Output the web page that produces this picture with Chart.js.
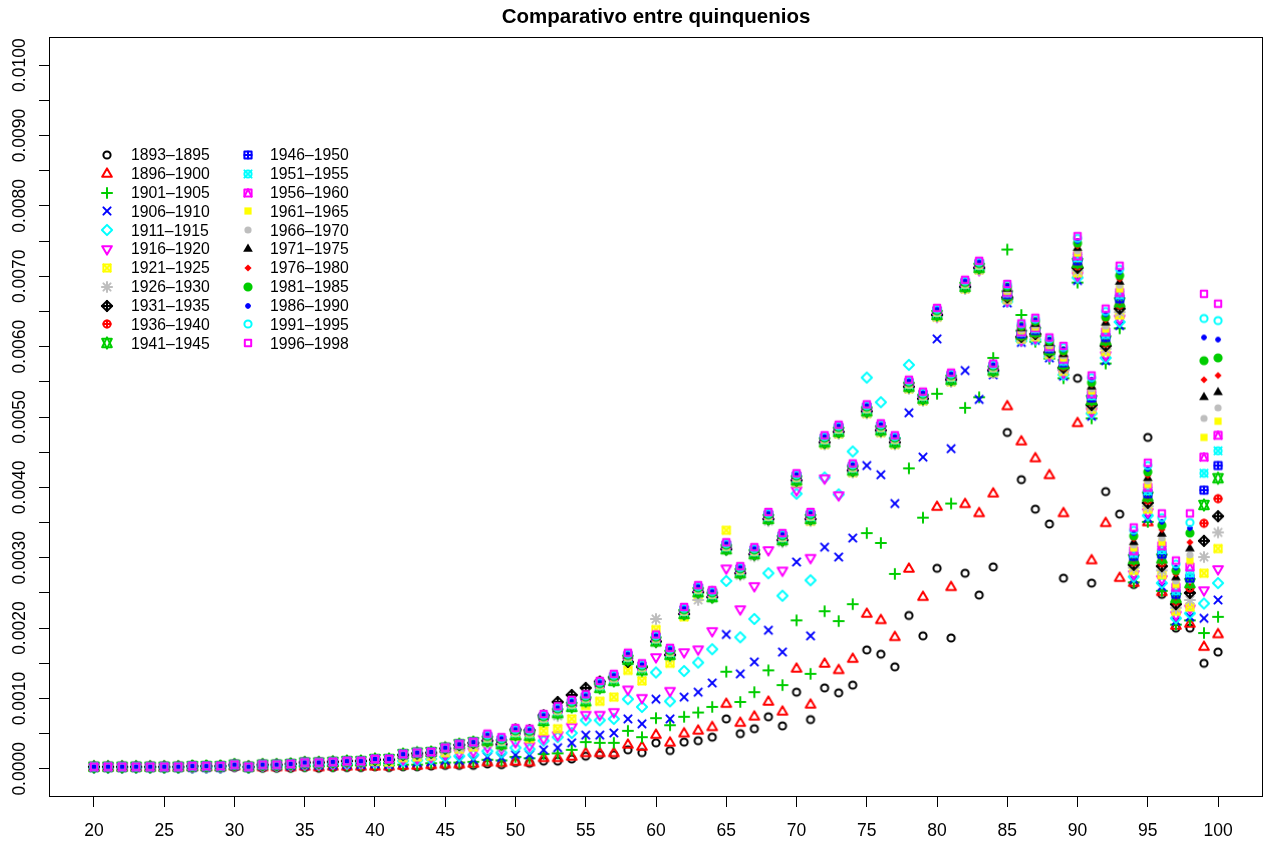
<!DOCTYPE html>
<html>
<head>
<meta charset="utf-8">
<title>Comparativo entre quinquenios</title>
<script src="https://cdn.jsdelivr.net/npm/chart.js@4.4.0/dist/chart.umd.min.js"></script>
<style>
  html, body { margin: 0; padding: 0; background: #fff; }
</style>
</head>
<body>
<canvas id="chart" width="1272" height="844"></canvas>
<script>
// Age-specific rates per five-year period, in per-mille (0.001 = 1.00)
const ages = [20,21,22,23,24,25,26,27,28,29,30,31,32,33,34,35,36,37,38,39,
  40,41,42,43,44,45,46,47,48,49,50,51,52,53,54,55,56,57,58,59,
  60,61,62,63,64,65,66,67,68,69,70,71,72,73,74,75,76,77,78,79,
  80,81,82,83,84,85,86,87,88,89,90,91,92,93,94,95,96,97,98,99,100];

const rate1893 = [0.01,0.01,0.01,0.01,0.01,0.01,0.01,0.01,0.01,0.01,
  0.02,0.01,0.01,0.01,0.01,0.02,0.01,0.02,0.02,0.02,
  0.03,0.02,0.03,0.03,0.04,0.05,0.05,0.05,0.07,0.06,
  0.09,0.08,0.11,0.11,0.14,0.18,0.20,0.20,0.27,0.23,
  0.37,0.26,0.38,0.40,0.45,0.71,0.50,0.57,0.74,0.61,
  1.09,0.70,1.15,1.08,1.19,1.69,1.63,1.45,2.18,1.89,
  2.85,1.86,2.78,2.47,2.87,4.78,4.11,3.69,3.48,2.71,
  5.55,2.64,3.94,3.62,2.62,4.71,2.48,2.00,2.00,1.50,1.66];
const rate1896 = [0.02,0.02,0.02,0.02,0.02,0.02,0.02,0.02,0.02,0.02,
  0.03,0.02,0.02,0.02,0.02,0.03,0.02,0.03,0.03,0.03,
  0.03,0.03,0.04,0.04,0.05,0.06,0.06,0.07,0.09,0.08,
  0.10,0.09,0.15,0.15,0.17,0.22,0.22,0.22,0.34,0.31,
  0.48,0.37,0.50,0.54,0.59,0.92,0.65,0.74,0.95,0.81,
  1.42,0.91,1.49,1.40,1.56,2.20,2.11,1.87,2.84,2.44,
  3.72,2.58,3.76,3.63,3.91,5.15,4.65,4.41,4.17,3.63,
  4.91,2.96,3.49,2.71,2.64,3.50,2.51,2.03,2.06,1.73,1.91];
const rate1901 = [0.02,0.02,0.02,0.02,0.02,0.02,0.02,0.02,0.02,0.02,
  0.04,0.02,0.03,0.03,0.03,0.04,0.04,0.04,0.05,0.05,
  0.06,0.05,0.06,0.06,0.08,0.09,0.09,0.10,0.13,0.12,
  0.17,0.15,0.21,0.22,0.27,0.38,0.37,0.37,0.54,0.45,
  0.72,0.62,0.74,0.80,0.88,1.38,0.95,1.09,1.40,1.19,
  2.11,1.35,2.24,2.10,2.34,3.35,3.21,2.77,4.27,3.57,
  5.33,3.77,5.13,5.28,5.84,7.38,6.45,6.07,5.83,5.55,
  6.91,4.98,5.76,6.26,2.65,3.51,2.53,2.05,2.11,1.93,2.16];
const rate1906 = [0.02,0.02,0.02,0.02,0.02,0.02,0.02,0.02,0.02,0.02,
  0.04,0.02,0.04,0.04,0.04,0.05,0.05,0.05,0.06,0.06,
  0.07,0.06,0.08,0.09,0.10,0.12,0.12,0.13,0.17,0.16,
  0.20,0.20,0.27,0.30,0.37,0.48,0.48,0.51,0.71,0.64,
  0.99,0.71,1.02,1.09,1.22,1.91,1.35,1.52,1.97,1.66,
  2.94,1.89,3.15,3.01,3.28,4.31,4.18,3.77,5.06,4.43,
  6.11,4.55,5.66,5.25,5.60,6.62,6.06,6.09,5.84,5.58,
  6.94,5.01,5.80,6.30,2.69,3.56,2.59,2.10,2.16,2.14,2.40];
const rate1911 = [0.02,0.02,0.02,0.02,0.02,0.02,0.02,0.02,0.02,0.02,
  0.05,0.02,0.04,0.04,0.05,0.06,0.06,0.07,0.07,0.08,
  0.09,0.08,0.11,0.12,0.14,0.17,0.18,0.20,0.25,0.23,
  0.30,0.28,0.40,0.45,0.51,0.69,0.69,0.71,0.99,0.88,
  1.37,0.96,1.39,1.51,1.70,2.67,1.87,2.13,2.78,2.46,
  3.91,2.68,4.14,3.90,4.51,5.56,5.21,4.70,5.74,5.30,
  6.45,5.55,6.85,7.10,5.65,6.64,6.08,6.10,5.86,5.60,
  6.98,5.05,5.84,6.35,2.73,3.60,2.64,2.14,2.21,2.35,2.64];
const rate1916 = [0.03,0.03,0.03,0.03,0.03,0.03,0.03,0.03,0.03,0.03,
  0.05,0.03,0.05,0.05,0.06,0.07,0.07,0.08,0.09,0.09,
  0.11,0.10,0.14,0.15,0.17,0.21,0.23,0.25,0.31,0.29,
  0.38,0.33,0.43,0.48,0.60,0.77,0.77,0.81,1.13,1.01,
  1.59,1.11,1.66,1.70,1.96,2.85,2.27,2.60,3.11,2.82,
  3.96,3.00,4.13,3.89,4.28,5.08,4.83,4.65,5.44,5.26,
  6.43,5.52,6.84,7.09,5.64,6.65,6.09,6.12,5.87,5.63,
  7.01,5.08,5.88,6.40,2.77,3.65,2.70,2.19,2.28,2.54,2.84];
const rate1921 = [0.03,0.03,0.03,0.03,0.03,0.03,0.03,0.04,0.04,0.04,
  0.06,0.03,0.06,0.06,0.07,0.09,0.09,0.10,0.11,0.11,
  0.11,0.10,0.16,0.17,0.18,0.23,0.28,0.31,0.38,0.36,
  0.47,0.43,0.54,0.57,0.71,0.90,0.96,1.02,1.40,1.25,
  1.98,1.50,2.16,2.45,2.50,3.39,2.80,3.05,3.55,3.28,
  4.07,3.52,4.61,4.76,4.21,5.05,4.78,4.61,5.40,5.23,
  6.42,5.50,6.82,7.09,5.63,6.67,6.11,6.14,5.89,5.65,
  7.05,5.11,5.93,6.45,2.82,3.69,2.76,2.24,2.30,2.78,3.13];
const rate1926 = [0.03,0.03,0.03,0.03,0.03,0.03,0.03,0.04,0.04,0.04,
  0.06,0.03,0.06,0.06,0.07,0.09,0.09,0.10,0.11,0.11,
  0.12,0.12,0.18,0.20,0.20,0.26,0.30,0.34,0.37,0.32,
  0.55,0.50,0.72,0.75,0.90,1.00,1.20,1.28,1.57,1.44,
  2.13,1.60,2.24,2.40,2.52,3.15,2.75,3.02,3.52,3.22,
  4.07,3.52,4.61,4.76,4.21,5.05,4.78,4.61,5.40,5.23,
  6.42,5.50,6.82,7.09,5.63,6.68,6.12,6.16,5.91,5.67,
  7.08,5.14,5.97,6.49,2.86,3.73,2.82,2.29,2.40,3.01,3.36];
const rate1931 = [0.03,0.03,0.03,0.03,0.03,0.03,0.03,0.04,0.04,0.04,
  0.06,0.03,0.06,0.06,0.07,0.09,0.09,0.10,0.11,0.11,
  0.13,0.13,0.20,0.22,0.23,0.29,0.34,0.37,0.40,0.35,
  0.56,0.55,0.76,0.95,1.05,1.15,1.24,1.30,1.52,1.45,
  1.81,1.62,2.20,2.51,2.44,3.12,2.78,3.05,3.55,3.25,
  4.10,3.55,4.64,4.79,4.24,5.08,4.81,4.64,5.43,5.26,
  6.45,5.53,6.85,7.12,5.66,6.70,6.14,6.18,5.92,5.70,
  7.12,5.17,6.01,6.54,2.90,3.78,2.88,2.34,2.50,3.24,3.59];
const rate1936 = [0.03,0.03,0.03,0.03,0.03,0.03,0.03,0.04,0.04,0.04,
  0.06,0.03,0.06,0.06,0.07,0.09,0.09,0.10,0.11,0.11,
  0.14,0.14,0.21,0.23,0.24,0.30,0.35,0.38,0.43,0.38,
  0.51,0.50,0.71,0.82,0.91,0.99,1.18,1.28,1.58,1.43,
  1.84,1.65,2.23,2.54,2.47,3.15,2.81,3.08,3.58,3.28,
  4.13,3.58,4.67,4.82,4.27,5.11,4.84,4.67,5.46,5.29,
  6.48,5.56,6.88,7.15,5.69,6.71,6.15,6.19,5.94,5.72,
  7.15,5.21,6.05,6.59,2.94,3.82,2.93,2.38,2.57,3.49,3.84];
const rate1941 = [0.03,0.03,0.03,0.03,0.03,0.03,0.03,0.04,0.04,0.04,
  0.06,0.03,0.06,0.06,0.07,0.09,0.09,0.10,0.11,0.11,
  0.14,0.14,0.21,0.23,0.24,0.30,0.35,0.38,0.40,0.35,
  0.48,0.47,0.68,0.79,0.88,0.96,1.15,1.25,1.55,1.40,
  1.81,1.62,2.20,2.51,2.44,3.12,2.78,3.05,3.55,3.25,
  4.10,3.55,4.64,4.79,4.24,5.08,4.81,4.64,5.43,5.26,
  6.45,5.53,6.85,7.12,5.66,6.73,6.17,6.21,5.95,5.75,
  7.19,5.24,6.09,6.63,2.98,3.87,2.99,2.43,2.64,3.75,4.13];
const rate1946 = [0.03,0.03,0.03,0.03,0.03,0.03,0.03,0.04,0.04,0.04,
  0.06,0.03,0.06,0.06,0.07,0.09,0.09,0.10,0.11,0.11,
  0.14,0.14,0.21,0.23,0.24,0.30,0.35,0.38,0.46,0.41,
  0.54,0.53,0.74,0.85,0.94,1.02,1.21,1.31,1.61,1.46,
  1.87,1.68,2.26,2.57,2.50,3.18,2.84,3.11,3.61,3.31,
  4.16,3.61,4.70,4.85,4.30,5.14,4.87,4.70,5.49,5.32,
  6.51,5.59,6.91,7.18,5.72,6.74,6.18,6.23,5.97,5.77,
  7.22,5.27,6.13,6.68,3.02,3.91,3.05,2.48,2.71,3.96,4.31];
const rate1951 = [0.03,0.03,0.03,0.03,0.03,0.03,0.03,0.04,0.04,0.04,
  0.06,0.03,0.06,0.06,0.07,0.09,0.09,0.10,0.11,0.11,
  0.14,0.14,0.21,0.23,0.24,0.30,0.35,0.38,0.43,0.38,
  0.51,0.50,0.71,0.82,0.91,0.99,1.18,1.28,1.58,1.43,
  1.84,1.65,2.23,2.54,2.47,3.15,2.81,3.08,3.58,3.28,
  4.13,3.58,4.67,4.82,4.27,5.11,4.84,4.67,5.46,5.29,
  6.48,5.56,6.88,7.15,5.69,6.76,6.20,6.25,5.99,5.79,
  7.26,5.30,6.17,6.73,3.06,3.95,3.11,2.53,2.78,4.20,4.52];
const rate1956 = [0.03,0.03,0.03,0.03,0.03,0.03,0.03,0.04,0.04,0.04,
  0.06,0.03,0.06,0.06,0.07,0.09,0.09,0.10,0.11,0.11,
  0.14,0.14,0.21,0.23,0.24,0.30,0.35,0.38,0.46,0.41,
  0.54,0.53,0.74,0.85,0.94,1.02,1.21,1.31,1.61,1.46,
  1.87,1.68,2.26,2.57,2.50,3.18,2.84,3.11,3.61,3.31,
  4.16,3.61,4.70,4.85,4.30,5.14,4.87,4.70,5.49,5.32,
  6.51,5.59,6.91,7.18,5.72,6.77,6.21,6.27,6.00,5.82,
  7.29,5.33,6.21,6.77,3.10,4.00,3.17,2.58,2.87,4.43,4.74];
const rate1961 = [0.03,0.03,0.03,0.03,0.03,0.03,0.03,0.04,0.04,0.04,
  0.06,0.03,0.06,0.06,0.07,0.09,0.09,0.10,0.11,0.11,
  0.14,0.14,0.21,0.23,0.24,0.30,0.35,0.38,0.43,0.38,
  0.51,0.50,0.71,0.82,0.91,0.99,1.18,1.28,1.58,1.43,
  1.84,1.65,2.23,2.54,2.47,3.15,2.81,3.08,3.58,3.28,
  4.13,3.58,4.67,4.82,4.27,5.11,4.84,4.67,5.46,5.29,
  6.48,5.56,6.88,7.15,5.69,6.79,6.23,6.28,6.02,5.84,
  7.33,5.37,6.25,6.82,3.14,4.04,3.22,2.62,2.96,4.71,4.94];
const rate1966 = [0.03,0.03,0.03,0.03,0.03,0.03,0.03,0.04,0.04,0.04,
  0.06,0.03,0.06,0.06,0.07,0.09,0.09,0.10,0.11,0.11,
  0.14,0.14,0.21,0.23,0.24,0.30,0.35,0.38,0.43,0.38,
  0.51,0.50,0.71,0.82,0.91,0.99,1.18,1.28,1.58,1.43,
  1.84,1.65,2.23,2.54,2.47,3.15,2.81,3.08,3.58,3.28,
  4.13,3.58,4.67,4.82,4.27,5.11,4.84,4.67,5.46,5.29,
  6.48,5.56,6.88,7.15,5.69,6.80,6.24,6.30,6.03,5.87,
  7.36,5.40,6.29,6.87,3.18,4.09,3.28,2.67,3.04,4.98,5.13];
const rate1971 = [0.03,0.03,0.03,0.03,0.03,0.03,0.03,0.04,0.04,0.04,
  0.06,0.03,0.06,0.06,0.07,0.09,0.09,0.10,0.11,0.11,
  0.14,0.14,0.21,0.23,0.24,0.30,0.35,0.38,0.46,0.41,
  0.54,0.53,0.74,0.85,0.94,1.02,1.21,1.31,1.61,1.46,
  1.87,1.68,2.26,2.57,2.50,3.18,2.84,3.11,3.61,3.31,
  4.16,3.61,4.70,4.85,4.30,5.14,4.87,4.70,5.49,5.32,
  6.51,5.59,6.91,7.18,5.72,6.82,6.26,6.32,6.05,5.89,
  7.40,5.43,6.34,6.92,3.22,4.13,3.34,2.72,3.13,5.28,5.35];
const rate1976 = [0.03,0.03,0.03,0.03,0.03,0.03,0.03,0.04,0.04,0.04,
  0.06,0.03,0.06,0.06,0.07,0.09,0.09,0.10,0.11,0.11,
  0.14,0.14,0.21,0.23,0.24,0.30,0.35,0.38,0.48,0.43,
  0.56,0.55,0.76,0.87,0.96,1.04,1.23,1.33,1.63,1.48,
  1.89,1.70,2.28,2.59,2.52,3.20,2.86,3.13,3.63,3.33,
  4.18,3.63,4.72,4.87,4.32,5.16,4.89,4.72,5.51,5.34,
  6.53,5.61,6.93,7.20,5.74,6.83,6.27,6.34,6.07,5.91,
  7.43,5.46,6.38,6.96,3.27,4.17,3.40,2.77,3.22,5.53,5.59];
const rate1981 = [0.03,0.03,0.03,0.03,0.03,0.03,0.03,0.04,0.04,0.04,
  0.06,0.03,0.06,0.06,0.07,0.09,0.09,0.10,0.11,0.11,
  0.14,0.14,0.21,0.23,0.24,0.30,0.35,0.38,0.46,0.41,
  0.54,0.53,0.74,0.85,0.94,1.02,1.21,1.31,1.61,1.46,
  1.87,1.68,2.26,2.57,2.50,3.18,2.84,3.11,3.61,3.31,
  4.16,3.61,4.70,4.85,4.30,5.14,4.87,4.70,5.49,5.32,
  6.51,5.59,6.91,7.18,5.72,6.85,6.29,6.36,6.08,5.94,
  7.47,5.49,6.42,7.01,3.31,4.22,3.46,2.82,3.35,5.80,5.84];
const rate1986 = [0.03,0.03,0.03,0.03,0.03,0.03,0.03,0.04,0.04,0.04,
  0.06,0.03,0.06,0.06,0.07,0.09,0.09,0.10,0.11,0.11,
  0.14,0.14,0.21,0.23,0.24,0.30,0.35,0.38,0.50,0.45,
  0.58,0.57,0.78,0.89,0.98,1.06,1.25,1.35,1.65,1.50,
  1.91,1.72,2.30,2.61,2.54,3.22,2.88,3.15,3.65,3.35,
  4.20,3.65,4.74,4.89,4.34,5.18,4.91,4.74,5.53,5.36,
  6.55,5.63,6.95,7.22,5.76,6.86,6.30,6.37,6.10,5.96,
  7.50,5.53,6.46,7.06,3.35,4.26,3.51,2.86,3.42,6.13,6.10];
const rate1991 = [0.03,0.03,0.03,0.03,0.03,0.03,0.03,0.04,0.04,0.04,
  0.06,0.03,0.06,0.06,0.07,0.09,0.09,0.10,0.11,0.11,
  0.14,0.14,0.21,0.23,0.24,0.30,0.35,0.38,0.48,0.43,
  0.56,0.55,0.76,0.87,0.96,1.04,1.23,1.33,1.63,1.48,
  1.89,1.70,2.28,2.59,2.52,3.20,2.86,3.13,3.63,3.33,
  4.18,3.63,4.72,4.87,4.32,5.16,4.89,4.72,5.51,5.34,
  6.53,5.61,6.93,7.20,5.74,6.88,6.32,6.39,6.11,5.99,
  7.54,5.56,6.50,7.10,3.39,4.31,3.57,2.91,3.50,6.40,6.37];
const rate1996 = [0.03,0.03,0.03,0.03,0.03,0.03,0.03,0.04,0.04,0.04,
  0.06,0.03,0.06,0.06,0.07,0.09,0.09,0.10,0.11,0.11,
  0.14,0.14,0.21,0.23,0.24,0.30,0.35,0.38,0.50,0.45,
  0.58,0.57,0.78,0.89,0.98,1.06,1.25,1.35,1.65,1.50,
  1.91,1.72,2.30,2.61,2.54,3.22,2.88,3.15,3.65,3.35,
  4.20,3.65,4.74,4.89,4.34,5.18,4.91,4.74,5.53,5.36,
  6.55,5.63,6.95,7.22,5.76,6.89,6.33,6.41,6.13,6.01,
  7.57,5.59,6.54,7.15,3.43,4.35,3.63,2.96,3.63,6.75,6.61];

const periods = ['1893\u20131895','1896\u20131900','1901\u20131905','1906\u20131910','1911\u20131915',
  '1916\u20131920','1921\u20131925','1926\u20131930','1931\u20131935','1936\u20131940','1941\u20131945',
  '1946\u20131950','1951\u20131955','1956\u20131960','1961\u20131965','1966\u20131970','1971\u20131975',
  '1976\u20131980','1981\u20131985','1986\u20131990','1991\u20131995','1996\u20131998'];
const seriesValues = [rate1893, rate1896, rate1901, rate1906, rate1911, rate1916, rate1921, rate1926,
  rate1931, rate1936, rate1941, rate1946, rate1951, rate1956, rate1961, rate1966, rate1971,
  rate1976, rate1981, rate1986, rate1991, rate1996];

const xTicks = [20,25,30,35,40,45,50,55,60,65,70,75,80,85,90,95,100];
const yTicks = [0,0.5,1,1.5,2,2.5,3,3.5,4,4.5,5,5.5,6,6.5,7,7.5,8,8.5,9,9.5,10];
const yLabelValues = [0,1,2,3,4,5,6,7,8,9,10];
const yLabels = ['0.0000','0.0010','0.0020','0.0030','0.0040','0.0050','0.0060','0.0070','0.0080','0.0090','0.0100'];
const chartTitle = 'Comparativo entre quinquenios';

// base-graphics style palette and symbols 1..22
const palette = ['#000000','#FF0000','#00CD00','#0000FF','#00FFFF','#FF00FF','#FFFF00','#BEBEBE'];
const FONT = '"Liberation Sans", Arial, Helvetica, sans-serif';

const R = 3.6;
function makeMarker(pch, color) {
  const c = document.createElement('canvas');
  c.width = 28; c.height = 28;
  const g = c.getContext('2d');
  g.translate(14, 14);
  g.strokeStyle = color;
  g.fillStyle = color;
  g.lineWidth = 2;
  g.lineCap = 'round';
  g.lineJoin = 'round';
  const seg = (x1, y1, x2, y2) => { g.beginPath(); g.moveTo(x1, y1); g.lineTo(x2, y2); g.stroke(); };
  const ring = r => { g.beginPath(); g.arc(0, 0, r, 0, Math.PI * 2); g.stroke(); };
  const disc = r => { g.beginPath(); g.arc(0, 0, r, 0, Math.PI * 2); g.fill(); };
  const shape = (pts, fill) => {
    g.beginPath();
    pts.forEach(([x, y], k) => (k ? g.lineTo(x, y) : g.moveTo(x, y)));
    g.closePath();
    if (fill) g.fill(); else g.stroke();
  };
  const tri = s => [[0, -1.555 * R * s], [1.347 * R, 0.778 * R * s], [-1.347 * R, 0.778 * R * s]];
  const d = Math.SQRT2 * R;
  const q = 0.886 * R;
  const diamond = [[0, -d], [d, 0], [0, d], [-d, 0]];
  switch (pch) {
    case 1: ring(R); break;
    case 2: shape(tri(1)); break;
    case 3: seg(-d, 0, d, 0); seg(0, -d, 0, d); break;
    case 4: seg(-R, -R, R, R); seg(-R, R, R, -R); break;
    case 5: shape(diamond); break;
    case 6: shape(tri(-1)); break;
    case 7: g.strokeRect(-R, -R, 2 * R, 2 * R); seg(-R, -R, R, R); seg(-R, R, R, -R); break;
    case 8: seg(-R, -R, R, R); seg(-R, R, R, -R); seg(-d, 0, d, 0); seg(0, -d, 0, d); break;
    case 9: shape(diamond); seg(-d, 0, d, 0); seg(0, -d, 0, d); break;
    case 10: ring(R); seg(-R, 0, R, 0); seg(0, -R, 0, R); break;
    case 11: {
      const a = 1.555 * R, b = 1.166 * R, w = 1.347 * R;
      shape([[0, -a], [w, b], [-w, b]]);
      shape([[0, a], [w, -b], [-w, -b]]);
      break;
    }
    case 12: g.strokeRect(-R, -R, 2 * R, 2 * R); seg(-R, 0, R, 0); seg(0, -R, 0, R); break;
    case 13: ring(R); seg(-R, -R, R, R); seg(-R, R, R, -R); break;
    case 14: g.strokeRect(-R, -R, 2 * R, 2 * R); seg(-R, R, 0, -R); seg(0, -R, R, R); break;
    case 15: g.fillRect(-R, -R, 2 * R, 2 * R); break;
    case 16: disc(R); break;
    case 17: shape(tri(1), true); break;
    case 18: shape([[0, -R], [R, 0], [0, R], [-R, 0]], true); break;
    case 19: disc(R); ring(R); break;
    case 20: disc(R * 2 / 3); g.lineWidth = 1; ring(R * 2 / 3); break;
    case 21: ring(R); break;
    case 22: g.strokeRect(-q, -q, 2 * q, 2 * q); break;
  }
  return c;
}

const markers = periods.map((p, i) => makeMarker(i + 1, palette[i % 8]));

// plot box, title, axis labels and the two-column key
const decorations = {
  id: 'decorations',
  afterDraw(chart) {
    const { ctx, chartArea: a, scales } = chart;
    ctx.save();
    ctx.strokeStyle = '#000';
    ctx.lineWidth = 1;
    ctx.strokeRect(a.left + 0.5, a.top + 0.5, a.right - a.left - 1, a.bottom - a.top - 1);

    ctx.fillStyle = '#000';
    ctx.textAlign = 'center';
    ctx.textBaseline = 'alphabetic';
    ctx.font = 'bold 20.5px ' + FONT;
    ctx.fillText(chartTitle, (a.left + a.right) / 2, 23);

    ctx.font = '17.5px ' + FONT;
    xTicks.forEach(v => ctx.fillText(String(v), scales.x.getPixelForValue(v), 836));
    yLabelValues.forEach((v, i) => {
      ctx.save();
      ctx.translate(24.6, scales.y.getPixelForValue(v));
      ctx.rotate(-Math.PI / 2);
      ctx.fillText(yLabels[i], 0, 0);
      ctx.restore();
    });

    ctx.font = '15.75px ' + FONT;
    ctx.textAlign = 'left';
    ctx.textBaseline = 'middle';
    periods.forEach((label, i) => {
      const col = i < 11 ? 0 : 1;
      const row = i % 11;
      const y = 155 + row * 18.83;
      const mx = col ? 248 : 107;
      const tx = col ? 270 : 131;
      ctx.drawImage(markers[i], Math.round(mx) - 14, Math.round(y) - 14);
      ctx.fillText(label, tx, y + 1);
    });
    ctx.restore();
  }
};

const ctx = document.getElementById('chart');
new Chart(ctx, {
  type: 'scatter',
  data: {
    datasets: periods.map((label, i) => ({
      label: label,
      data: ages.map((age, k) => ({ x: age, y: seriesValues[i][k] })),
      pointStyle: markers[i],
      pointRadius: 4,
      order: periods.length - 1 - i
    }))
  },
  options: {
    responsive: false,
    animation: false,
    devicePixelRatio: 1,
    events: [],
    layout: { padding: { top: 37, right: 9, left: 0, bottom: 0 } },
    plugins: {
      legend: { display: false },
      title: { display: false },
      tooltip: { enabled: false }
    },
    scales: {
      x: {
        type: 'linear',
        min: 16.8,
        max: 103.2,
        afterBuildTicks: scale => { scale.ticks = xTicks.map(v => ({ value: v })); },
        afterFit: scale => { scale.height = 47; },
        ticks: { display: false },
        border: { display: false },
        grid: { drawOnChartArea: false, drawTicks: true, tickLength: 10, color: '#000', lineWidth: 1 }
      },
      y: {
        type: 'linear',
        min: -0.4,
        max: 10.4,
        afterBuildTicks: scale => { scale.ticks = yTicks.map(v => ({ value: v })); },
        afterFit: scale => { scale.width = 49; },
        ticks: { display: false },
        border: { display: false },
        grid: { drawOnChartArea: false, drawTicks: true, tickLength: 10, color: '#000', lineWidth: 1 }
      }
    }
  },
  plugins: [decorations]
});
</script>
</body>
</html>
